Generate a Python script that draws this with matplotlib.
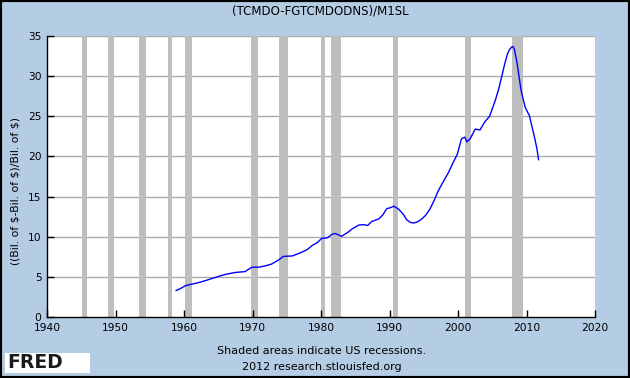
import matplotlib
matplotlib.use("Agg")
import matplotlib.pyplot as plt

years = [1958.85, 1959.5, 1960.2, 1961.2, 1962.2, 1963.2, 1964.1, 1965.0, 1966.0, 1967.5,
         1968.9, 1969.9, 1970.9, 1971.8, 1972.8, 1973.8, 1974.5, 1975.8, 1977.0, 1978.0,
         1978.7, 1979.5, 1980.1, 1980.9, 1981.6, 1982.1, 1982.6, 1983.0, 1984.0, 1984.5,
         1985.5, 1986.2, 1986.8, 1987.4, 1988.4, 1989.0, 1989.6, 1990.1, 1990.6, 1991.3,
         1992.0, 1992.5, 1993.0, 1993.5, 1994.1, 1994.7, 1995.3, 1995.9, 1996.5, 1997.1,
         1997.8, 1998.6, 1999.2, 1999.9, 2000.5, 2001.0, 2001.3, 2001.8, 2002.5, 2003.2,
         2003.9, 2004.6, 2005.4, 2005.9, 2006.4, 2006.8, 2007.2, 2007.5, 2007.8, 2008.0,
         2008.2, 2008.6, 2009.2, 2009.8, 2010.4, 2011.1, 2011.5, 2011.75]
ratio = [3.3, 3.55, 3.9, 4.1, 4.3, 4.55, 4.8, 5.05, 5.3, 5.55,
         5.65, 6.2, 6.2, 6.35, 6.6, 7.1, 7.55, 7.6, 8.0, 8.4,
         8.9, 9.3, 9.8, 9.85, 10.3, 10.4, 10.2, 10.05, 10.6, 10.95,
         11.45, 11.5, 11.4, 11.9, 12.2, 12.7, 13.5, 13.6, 13.8, 13.45,
         12.8, 12.1, 11.8, 11.7, 11.85, 12.2, 12.7, 13.45, 14.5, 15.7,
         16.8, 18.0, 19.1, 20.3, 22.2, 22.4, 21.8, 22.25, 23.4, 23.3,
         24.3, 25.0, 26.9, 28.3, 30.05, 31.5, 32.75, 33.3, 33.6, 33.7,
         33.4, 31.7, 28.2, 26.1, 25.1, 22.6, 21.0, 19.6]

rec_start = [1945.1, 1948.9, 1953.5, 1957.6, 1960.1, 1969.8, 1973.9, 1980.0, 1981.4, 1990.5, 2001.0, 2007.9]
rec_end = [1945.9, 1949.8, 1954.4, 1958.3, 1961.1, 1970.8, 1975.2, 1980.6, 1982.9, 1991.2, 2001.9, 2009.5]

xticks = [1940, 1950, 1960, 1970, 1980, 1990, 2000, 2010, 2020]
yticks = [0, 5, 10, 15, 20, 25, 30, 35]

bg = "#b4cde4"
fig = plt.figure(figsize=(6.3, 3.78), dpi=100, facecolor=bg)
ax = fig.add_axes([0.0746, 0.1614, 0.870, 0.7434])
ax.set_facecolor("white")

for s, e in zip(rec_start, rec_end):
    ax.axvspan(s, e, color="#bebebe", lw=0, zorder=1)

for y in yticks[1:]:
    ax.axhline(y, color="#aaaaaa", lw=1, zorder=0.5)

ax.plot(years, ratio, color="#0000ff", lw=1, zorder=3)

ax.set_xlim(1940, 2020)
ax.set_ylim(0, 35)
ax.set_xticks(xticks)
ax.set_yticks(yticks)
ax.tick_params(axis="x", direction="in", length=5, width=1, labelsize=7.7, pad=4)
ax.tick_params(axis="y", direction="in", length=5, width=1, labelsize=7.7, pad=4)
for sp in ["top", "right"]:
    ax.spines[sp].set_visible(False)
for sp in ["left", "bottom"]:
    ax.spines[sp].set_color("black")
    ax.spines[sp].set_linewidth(1)

ax.set_ylabel(r"((Bil. of \$-Bil. of \$)/Bil. of \$)", fontsize=7.8)
ax.yaxis.set_label_coords(-0.049, 0.45)

fig.text(0.508, 0.971, "(TCMDO-FGTCMDODNS)/M1SL", ha="center", va="center", fontsize=8.5)
fig.text(0.511, 0.071, "Shaded areas indicate US recessions.", ha="center", va="center", fontsize=8)
fig.text(0.511, 0.030, "2012 research.stlouisfed.org", ha="center", va="center", fontsize=8)

logo_box = plt.Rectangle((5 / 630, 5 / 378), 85 / 630, 20 / 378, transform=fig.transFigure,
                         facecolor="white", edgecolor="none")
fig.patches.append(logo_box)
fig.text(7 / 630, 15 / 378, "FRED", ha="left", va="center", fontsize=13.5, fontweight="heavy",
         color="#1a1a1a")

border = plt.Rectangle((0, 0), 1, 1, transform=fig.transFigure, fill=False,
                       edgecolor="black", lw=3)
fig.patches.append(border)

fig.savefig("out.png", dpi=100, facecolor=bg)
